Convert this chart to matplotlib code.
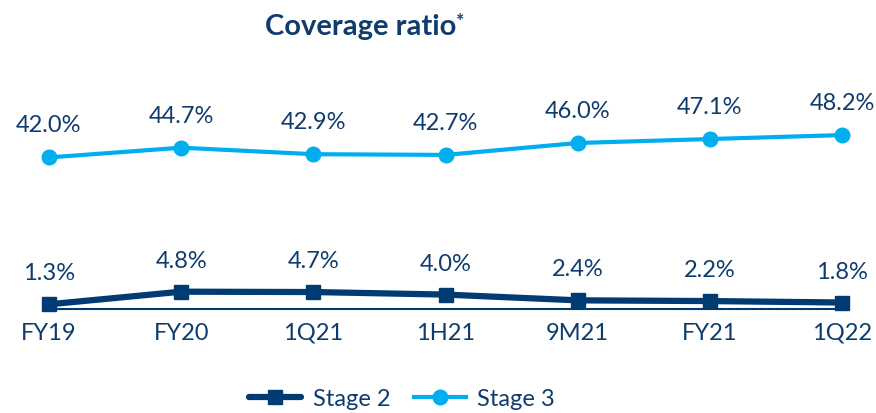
import matplotlib
matplotlib.use("Agg")
import matplotlib.pyplot as plt
from matplotlib.lines import Line2D

categories = ["FY19", "FY20", "1Q21", "1H21", "9M21", "FY21", "1Q22"]
stage2 = [1.3, 4.8, 4.7, 4.0, 2.4, 2.2, 1.8]
stage3 = [42.0, 44.7, 42.9, 42.7, 46.0, 47.1, 48.2]

NAVY = "#003B71"
LIGHT = "#00AEEF"
TEXT = "#0F3C6E"

plt.rcParams['font.family'] = ['Lato', 'DejaVu Sans']

W, H = 876, 413
fig = plt.figure(figsize=(W / 100, H / 100), dpi=100)
left = 49 / W
right = 842 / W
bottom = (H - 309) / H
top = (H - 60) / H
ax = fig.add_axes([left, bottom, right - left, top - bottom])

x = list(range(len(categories)))
ax.plot(x, stage2, color=NAVY, lw=4.5, marker='s', ms=10.5, zorder=3, clip_on=False,
        solid_capstyle='round')
ax.plot(x, stage3, color=LIGHT, lw=3, marker='o', ms=10.5, zorder=3, clip_on=False)

for xi, v in zip(x, stage2):
    ax.annotate(f"{v:.1f}%", (xi, v), xytext=(0, 24), textcoords='offset pixels',
                ha='center', va='baseline', fontsize=17, color=TEXT)
for xi, v in zip(x, stage3):
    ax.annotate(f"{v:.1f}%", (xi, v), xytext=(0, 25), textcoords='offset pixels',
                ha='center', va='baseline', fontsize=17, color=TEXT)

ax.set_xlim(0, len(categories) - 1)
ax.set_ylim(0, 69)
ax.set_xticks(x)
ax.set_xticklabels(categories, fontsize=17, color=TEXT)
ax.tick_params(axis='x', length=0, pad=10)
ax.set_yticks([])
for s in ['top', 'right', 'left']:
    ax.spines[s].set_visible(False)
ax.spines['bottom'].set_color(NAVY)
ax.spines['bottom'].set_linewidth(1.5)
ax.spines['bottom'].set_zorder(1)

fig.text(361 / W, 1 - 27 / H, "Coverage ratio", ha='center', va='center',
         fontsize=21, fontweight='bold', color=TEXT)
fig.text(456 / W, 1 - 22 / H, "*", ha='left', va='center',
         fontsize=14, fontweight='bold', color=TEXT)

handles = [
    Line2D([], [], color=NAVY, lw=4.5, marker='s', ms=10.5, solid_capstyle='round'),
    Line2D([], [], color=LIGHT, lw=3, marker='o', ms=10.5),
]
fig.legend(handles, ["Stage 2", "Stage 3"], loc='center', bbox_to_anchor=(402 / W, 1 - 399 / H),
           ncol=2, frameon=False, fontsize=17, labelcolor=TEXT, handlelength=2.2,
           columnspacing=1.0, handletextpad=0.5)

fig.savefig("out.png", dpi=100)
